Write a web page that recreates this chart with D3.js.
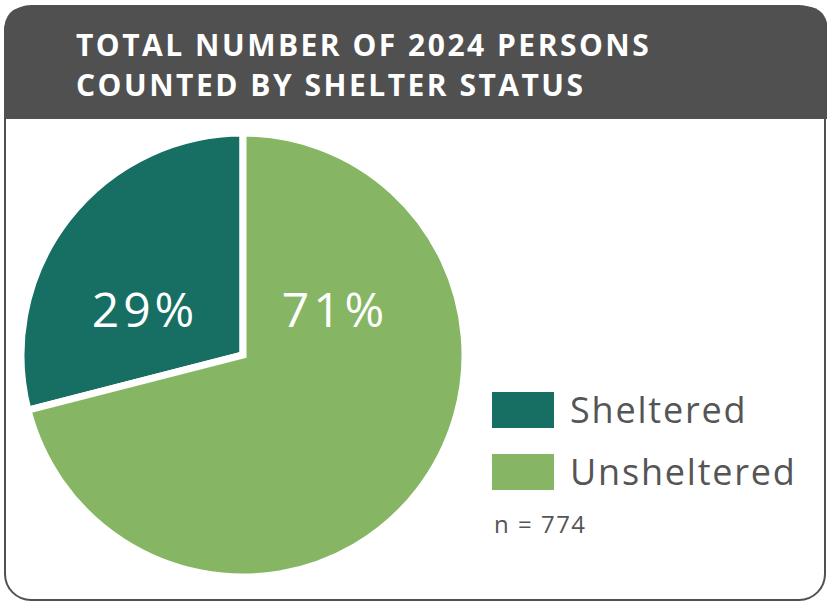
<!DOCTYPE html>
<html>
<head>
<meta charset="utf-8">
<script src="https://cdn.jsdelivr.net/npm/d3@7"></script>
<style>
  body { margin: 0; background: #fff; }
  svg { display: block; font-family: "Open Sans", "Noto Sans", sans-serif; }
</style>
</head>
<body>
<svg id="chart"></svg>
<script>
// Chart data
const categories = ["Sheltered", "Unsheltered"];
const percents = [29, 71];
const titleLines = ["TOTAL NUMBER OF 2024 PERSONS", "COUNTED BY SHELTER STATUS"];
const sampleNote = "n = 774";

const width = 827, height = 604;
const colors = d3.scaleOrdinal()
    .domain(categories)
    .range(["#166f62", "#86b663"]);

const svg = d3.select("#chart")
    .attr("width", width)
    .attr("height", height);

// Card outline with rounded corners
svg.append("rect")
    .attr("x", 5).attr("y", 6)
    .attr("width", 820).attr("height", 594)
    .attr("rx", 26)
    .style("fill", "#fff")
    .style("stroke", "#505050")
    .style("stroke-width", 2);

// Dark header band (rounded top only)
const hx = 4, hy = 6, hw = 824, hh = 113, r = 26;
svg.append("path")
    .attr("d", `M${hx},${hy + hh} V${hy + r} Q${hx},${hy} ${hx + r},${hy} H${hx + hw - r} Q${hx + hw},${hy} ${hx + hw},${hy + r} V${hy + hh} Z`)
    .style("fill", "#505050");

svg.selectAll(".title")
    .data(titleLines)
    .enter().append("text")
    .attr("class", "title")
    .attr("x", 76)
    .attr("y", (d, i) => 56 + i * 40)
    .style("fill", "#fff")
    .style("font-weight", "bold")
    .style("font-size", "30px")
    .style("letter-spacing", "2.5px")
    .text(d => d);

// Pie: sheltered slice sits just left of 12 o'clock
const cx = 243, cy = 355, radius = 222;
const total = d3.sum(percents);
const startA = -2 * Math.PI * percents[0] / total;

const pie = d3.pie()
    .sort(null)
    .value(d => d.value)
    .startAngle(startA)
    .endAngle(startA + 2 * Math.PI);

const pieData = pie(categories.map((c, i) => ({ name: c, value: percents[i] })));
const arc = d3.arc().innerRadius(0).outerRadius(radius);

const pieG = svg.append("g")
    .attr("transform", `translate(${cx},${cy})`);

pieG.selectAll(".slice")
    .data(pieData)
    .enter().append("path")
    .attr("class", "slice")
    .attr("d", arc)
    .style("fill", d => colors(d.data.name))
    .style("stroke", "#fff")
    .style("stroke-width", 7)
    .style("stroke-linejoin", "miter");

// Percent labels, both on the same row above the centre
const labelX = d3.scaleOrdinal().domain(categories).range([-98, 92]);
pieG.selectAll(".pct")
    .data(pieData)
    .enter().append("text")
    .attr("class", "pct")
    .attr("x", d => labelX(d.data.name))
    .attr("y", -28)
    .attr("text-anchor", "middle")
    .style("fill", "#fff")
    .style("font-size", "48px")
    .style("letter-spacing", "4px")
    .text(d => d.data.value + "%");

// Legend
const legendY = d3.scalePoint().domain(categories).range([392, 454]);
const legend = svg.selectAll(".legend")
    .data(categories)
    .enter().append("g")
    .attr("class", "legend")
    .attr("transform", d => `translate(492,${legendY(d)})`);

legend.append("rect")
    .attr("width", 62)
    .attr("height", 36)
    .style("fill", colors);

legend.append("text")
    .attr("x", 78)
    .attr("y", 31)
    .style("fill", "#555")
    .style("font-size", "36px")
    .style("letter-spacing", "1.8px")
    .text(d => d);

svg.append("text")
    .attr("x", 494)
    .attr("y", 533)
    .style("fill", "#555")
    .style("font-size", "24px")
    .style("letter-spacing", "1.5px")
    .text(sampleNote);
</script>
</body>
</html>
